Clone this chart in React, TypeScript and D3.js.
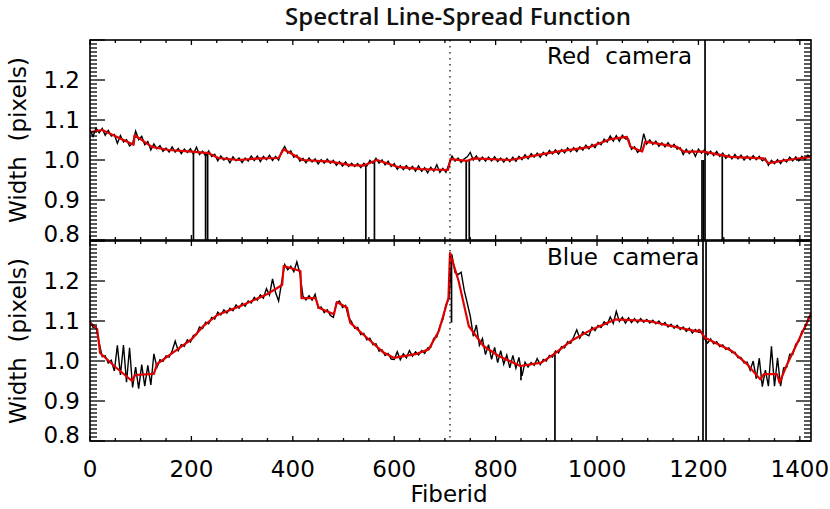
import * as d3 from 'd3';

// fiber sampling of the raw traces (every 6th fiber, 0..1422)
const FIBER_STEP = 6;
const FIBER_MAX = 1422;
const FIBERS = d3.range(0, FIBER_MAX + 1, FIBER_STEP);

// measured widths, red camera
const RED_RAW = [
  1.075, 1.059, 1.080, 1.068, 1.079, 1.062, 1.074, 1.060, 1.064, 1.042,
  1.061, 1.045, 1.051, 1.035, 1.041, 1.072, 1.051, 1.059, 1.038, 1.046,
  1.025, 1.040, 1.028, 1.036, 1.022, 1.030, 1.020, 1.033, 1.020, 1.029,
  1.016, 1.027, 1.019, 1.028, 1.015, 1.032, 1.014, 1.022, 1.010, 1.023,
  1.009, 1.014, 0.998, 1.010, 1.000, 1.006, 0.993, 1.008, 0.998, 1.005,
  0.994, 1.005, 0.997, 1.010, 0.999, 1.010, 0.996, 1.009, 1.001, 1.012,
  0.999, 1.009, 1.000, 1.022, 1.034, 1.017, 1.023, 1.007, 1.012, 0.997,
  1.004, 0.993, 1.005, 0.995, 1.003, 0.990, 1.001, 0.992, 1.002, 0.992,
  0.999, 0.987, 0.996, 0.985, 0.995, 0.984, 0.992, 0.984, 0.991, 0.981,
  0.992, 0.985, 0.999, 0.992, 1.004, 0.992, 1.000, 0.988, 0.997, 0.984,
  0.991, 0.977, 0.986, 0.976, 0.986, 0.976, 0.984, 0.972, 0.985, 0.972,
  0.981, 0.968, 0.982, 0.972, 0.988, 0.969, 0.979, 0.969, 0.990, 1.010,
  0.997, 1.005, 0.994, 1.003, 1.008, 1.019, 1.000, 1.010, 0.998, 1.007,
  0.997, 1.007, 0.998, 1.008, 0.996, 1.005, 0.995, 1.005, 0.996, 1.007,
  0.997, 1.009, 1.001, 1.013, 1.003, 1.016, 1.007, 1.017, 1.007, 1.019,
  1.011, 1.024, 1.015, 1.025, 1.015, 1.026, 1.018, 1.030, 1.021, 1.031,
  1.021, 1.033, 1.025, 1.037, 1.028, 1.039, 1.031, 1.044, 1.038, 1.052,
  1.045, 1.060, 1.047, 1.061, 1.047, 1.062, 1.053, 1.052, 1.027, 1.033,
  1.019, 1.026, 1.066, 1.040, 1.050, 1.039, 1.047, 1.034, 1.043, 1.033,
  1.043, 1.032, 1.039, 1.027, 1.031, 1.014, 1.027, 1.016, 1.025, 1.009,
  1.027, 1.017, 1.026, 1.013, 1.022, 1.011, 1.021, 1.009, 1.017, 1.004,
  1.013, 1.003, 1.014, 1.003, 1.012, 1.000, 1.010, 1.001, 1.011, 1.001,
  1.009, 0.998, 1.004, 0.987, 0.999, 0.991, 1.001, 0.991, 1.002, 0.995,
  1.007, 0.998, 1.008, 0.998, 1.009, 1.001, 1.012, 1.004,
];

// measured widths, blue camera
const BLUE_RAW = [
  1.100, 1.084, 1.086, 1.046, 1.011, 1.013, 0.995, 1.002, 0.975, 1.039,
  0.965, 1.040, 0.947, 1.033, 0.934, 0.985, 0.931, 0.991, 0.937, 0.989,
  0.940, 1.018, 0.984, 1.003, 0.999, 1.013, 1.010, 1.025, 1.050, 1.026,
  1.041, 1.037, 1.053, 1.047, 1.064, 1.066, 1.085, 1.081, 1.097, 1.093,
  1.109, 1.105, 1.122, 1.115, 1.128, 1.120, 1.132, 1.126, 1.140, 1.132,
  1.144, 1.137, 1.150, 1.145, 1.159, 1.152, 1.165, 1.157, 1.181, 1.165,
  1.205, 1.171, 1.150, 1.197, 1.241, 1.228, 1.237, 1.223, 1.248, 1.219,
  1.162, 1.153, 1.163, 1.152, 1.167, 1.133, 1.135, 1.121, 1.128, 1.114,
  1.109, 1.146, 1.150, 1.134, 1.139, 1.109, 1.098, 1.082, 1.084, 1.066,
  1.069, 1.053, 1.057, 1.041, 1.043, 1.025, 1.028, 1.014, 1.019, 1.005,
  1.004, 1.023, 1.003, 1.018, 1.008, 1.026, 1.012, 1.023, 1.015, 1.026,
  1.019, 1.033, 1.034, 1.057, 1.060, 1.087, 1.104, 1.141, 1.156, 1.264,
  1.221, 1.216, 1.222, 1.177, 1.145, 1.112, 1.062, 1.090, 1.039, 1.056,
  1.016, 1.041, 1.004, 1.034, 0.996, 1.026, 0.992, 1.015, 0.983, 1.014,
  0.982, 1.009, 0.963, 0.997, 0.985, 0.996, 0.989, 1.006, 0.991, 1.004,
  1.000, 1.014, 1.010, 1.025, 1.020, 1.036, 1.033, 1.048, 1.044, 1.060,
  1.078, 1.057, 1.073, 1.067, 1.063, 1.084, 1.076, 1.089, 1.084, 1.098,
  1.091, 1.110, 1.094, 1.124, 1.099, 1.109, 1.095, 1.108, 1.096, 1.106,
  1.096, 1.106, 1.097, 1.104, 1.095, 1.102, 1.093, 1.100, 1.090, 1.096,
  1.085, 1.092, 1.082, 1.089, 1.079, 1.085, 1.074, 1.082, 1.070, 1.079,
  1.072, 1.073, 1.056, 1.045, 1.055, 1.043, 1.048, 1.036, 1.040, 1.029,
  1.033, 1.021, 1.022, 1.008, 1.009, 0.995, 0.997, 0.977, 1.000, 0.956,
  1.007, 0.936, 0.977, 0.937, 1.037, 0.937, 1.008, 0.937, 0.983, 0.984,
  1.017, 1.016, 1.042, 1.049, 1.074, 1.081, 1.105, 1.119,
];

// smooth fits [fiber, width]
const RED_FIT: [number, number][] = [
  [0, 1.070], [24, 1.075], [86, 1.038], [88, 1.062], [122, 1.033], [155, 1.025],
  [201, 1.021], [234, 1.017], [253, 1.005], [293, 1.000], [335, 1.004], [372, 1.005],
  [382, 1.027], [419, 1.000], [474, 0.996], [513, 0.987], [540, 0.986], [566, 1.000],
  [606, 0.983], [652, 0.977], [706, 0.975], [711, 1.002], [744, 0.998], [757, 1.004],
  [829, 1.000], [882, 1.012], [921, 1.021], [967, 1.029], [987, 1.033], [1026, 1.052],
  [1059, 1.058], [1066, 1.033], [1089, 1.021], [1095, 1.046], [1158, 1.033], [1171, 1.021],
  [1210, 1.021], [1263, 1.008], [1329, 1.004], [1338, 0.992], [1375, 1.000], [1422, 1.008],
];

const BLUE_FIT: [number, number][] = [
  [0, 1.096], [14, 1.080], [20, 1.020], [50, 0.985], [83, 0.950], [89, 0.965],
  [126, 0.968], [132, 0.992], [200, 1.054], [224, 1.088], [251, 1.115], [297, 1.1375],
  [349, 1.167], [379, 1.190], [382, 1.2375], [415, 1.225], [417, 1.157], [445, 1.157],
  [451, 1.133], [481, 1.117], [487, 1.1475], [507, 1.133], [513, 1.096], [546, 1.058],
  [579, 1.021], [599, 1.008], [642, 1.017], [668, 1.029], [688, 1.075], [707, 1.158],
  [710, 1.270], [727, 1.200], [747, 1.0875], [776, 1.0375], [806, 1.0125], [849, 0.9875],
  [890, 0.996], [915, 1.017], [951, 1.052], [990, 1.079], [1036, 1.104], [1102, 1.100],
  [1155, 1.085], [1197, 1.074], [1202, 1.078], [1213, 1.058], [1266, 1.025], [1296, 0.992],
  [1322, 0.954], [1329, 0.967], [1355, 0.967], [1360, 0.946], [1375, 0.992], [1422, 1.117],
];

// dead / bad fibers: [fiber, from, to]
const RED_SPIKES: [number, number, number][] = [
  [204, 1.021, 0.5], [228, 1.018, 0.5], [232, 1.018, 0.5], [544, 0.990, 0.5],
  [561, 0.998, 0.5], [742, 0.998, 0.5], [748, 1.000, 0.5], [1207, 1.000, 0.5],
  [1210, 1.000, 0.5], [1213, 1.5, 0.5], [1247, 1.012, 0.5],
];

const BLUE_SPIKES: [number, number, number][] = [
  [713, 1.268, 1.096], [850, 0.988, 0.952], [917, 1.017, 0.5],
  [1209, 1.5, 0.5], [1215, 1.5, 0.5],
];

const Y_MAJOR = [0.8, 0.9, 1.0, 1.1, 1.2];
const Y_MINOR = d3.range(80, 131).map(v => v / 100);
const X_MAJOR = [0, 200, 400, 600, 800, 1000, 1200, 1400];
const X_MINOR = d3.range(0, 1401, 50);
const BLOCK_SPLIT = 710;

const W = 830;
const H = 509;
const X0 = 90;
const X1 = 811;
const FONT = '"DejaVu Sans", sans-serif';

const x = d3.scaleLinear().domain([0, FIBER_MAX]).range([X0, X1]);

interface PanelProps {
  top: number;
  bottom: number;
  raw: number[];
  fit: [number, number][];
  spikes: [number, number, number][];
  label: string;
  showXLabels: boolean;
}

function Panel({ top, bottom, raw, fit, spikes, label, showXLabels }: PanelProps) {
  const y = d3.scaleLinear().domain([0.8, 1.3]).range([bottom, top]);
  const rawLine = d3.line<number>()
    .x((_, i) => x(FIBERS[i]))
    .y(v => y(v));
  const fitLine = d3.line<[number, number]>()
    .x(d => x(d[0]))
    .y(d => y(d[1]));
  const clipId = `clip-${top}`;
  const mid = (top + bottom) / 2;

  return (
    <g>
      <defs>
        <clipPath id={clipId}>
          <rect x={X0} y={top} width={X1 - X0} height={bottom - top} />
        </clipPath>
      </defs>

      <g clipPath={`url(#${clipId})`}>
        <path d={rawLine(raw) ?? ''} fill="none" stroke="#000" strokeWidth={1.4} strokeLinejoin="miter" />
        {spikes.map(([f, a, b], i) => (
          <line key={i} x1={x(f)} x2={x(f)} y1={y(a)} y2={y(b)} stroke="#000" strokeWidth={1.7} />
        ))}
        <path d={fitLine(fit) ?? ''} fill="none" stroke="#e00000" strokeWidth={2.2} strokeLinejoin="round" />
      </g>

      {/* frame */}
      <rect x={X0} y={top} width={X1 - X0} height={bottom - top} fill="none" stroke="#000" strokeWidth={1.6} />

      {/* y ticks, both sides */}
      {Y_MINOR.map(v => {
        const major = Math.abs(v * 10 - Math.round(v * 10)) < 1e-6;
        const len = major ? 15 : 7;
        return (
          <g key={v} stroke="#000" strokeWidth={1.3}>
            <line x1={X0} x2={X0 + len} y1={y(v)} y2={y(v)} />
            <line x1={X1} x2={X1 - len} y1={y(v)} y2={y(v)} />
          </g>
        );
      })}

      {/* x ticks, top and bottom */}
      {X_MINOR.map(v => {
        const len = v % 200 === 0 ? 5 : 3;
        return (
          <g key={v} stroke="#000" strokeWidth={1.3}>
            <line x1={x(v)} x2={x(v)} y1={bottom} y2={bottom - len} />
            <line x1={x(v)} x2={x(v)} y1={top} y2={top + len} />
          </g>
        );
      })}

      {Y_MAJOR.map(v => (
        <text
          key={v}
          x={80}
          y={Math.min(y(v), bottom - 6)}
          textAnchor="end"
          dominantBaseline="central"
          fontFamily={FONT}
          fontSize={23}
          fill="#000"
        >
          {v.toFixed(1)}
        </text>
      ))}

      {showXLabels && X_MAJOR.map(v => (
        <text key={v} x={x(v)} y={bottom + 36} textAnchor="middle" fontFamily={FONT} fontSize={23} fill="#000">
          {v}
        </text>
      ))}

      <text
        transform={`translate(26,${mid}) rotate(-90)`}
        textAnchor="middle"
        fontFamily={FONT}
        fontSize={23}
        fill="#000"
        style={{ whiteSpace: 'pre' }}
      >
        {'Width  (pixels)'}
      </text>

      <text x={547} y={top + 24} fontFamily={FONT} fontSize={23} fill="#000" style={{ whiteSpace: 'pre' }}>
        {label}
      </text>
    </g>
  );
}

export default function App() {
  return (
    <svg width={W} height={H} style={{ position: 'absolute', left: 0, top: 0, background: '#fff' }}>
      <rect width={W} height={H} fill="#fff" />
      <text
        x={458}
        y={25}
        textAnchor="middle"
        fontFamily='"Open Sans", sans-serif'
        fontWeight={600}
        fontSize={24}
        fill="#111"
      >
        Spectral Line-Spread Function
      </text>

      <Panel top={40} bottom={240} raw={RED_RAW} fit={RED_FIT} spikes={RED_SPIKES} label="Red  camera" showXLabels={false} />
      <Panel top={241} bottom={441} raw={BLUE_RAW} fit={BLUE_FIT} spikes={BLUE_SPIKES} label="Blue  camera" showXLabels={true} />

      <line
        x1={x(BLOCK_SPLIT)}
        x2={x(BLOCK_SPLIT)}
        y1={40}
        y2={441}
        stroke="#000"
        strokeWidth={1.2}
        strokeDasharray="1.5 4.5"
      />

      <text x={449} y={502} textAnchor="middle" fontFamily={FONT} fontSize={23} fill="#000">
        Fiberid
      </text>
    </svg>
  );
}
